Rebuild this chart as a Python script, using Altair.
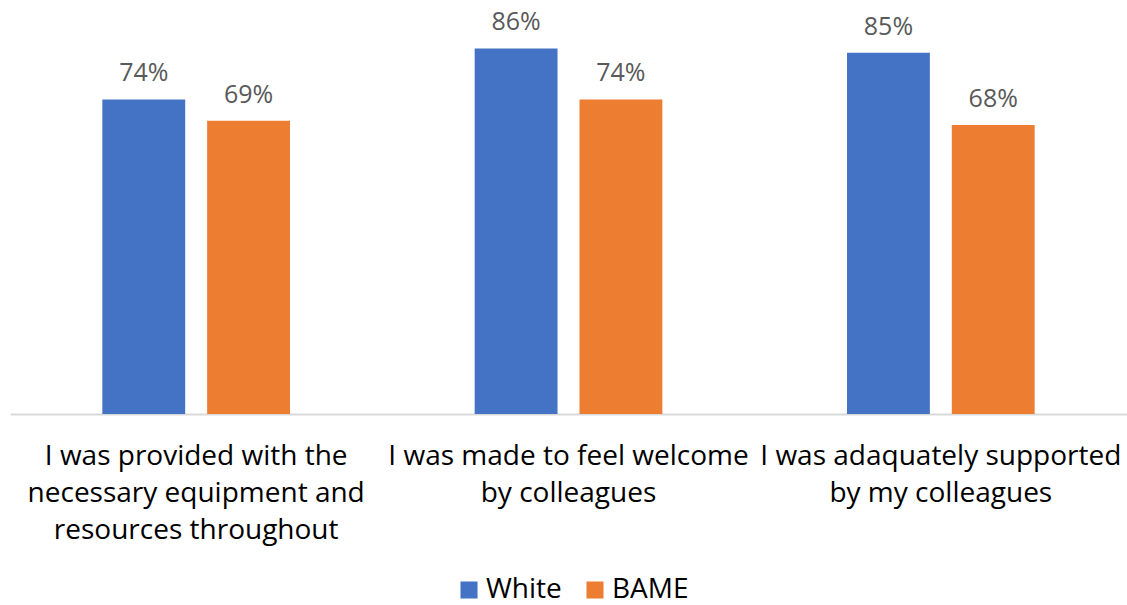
import altair as alt
import pandas as pd

# Survey statements (| marks a line break in the axis label)
statements = [
    "I was provided with the|necessary equipment and|resources throughout",
    "I was made to feel welcome|by colleagues",
    "I was adaquately supported|by my colleagues",
]
groups = ["White", "BAME"]
white = [0.74, 0.86, 0.85]
bame = [0.69, 0.74, 0.68]
colors = ["#4472C4", "#ED7D31"]

rows = []
for s, w, b in zip(statements, white, bame):
    rows.append({"statement": s, "group": "White", "share": w})
    rows.append({"statement": s, "group": "BAME", "share": b})
df = pd.DataFrame(rows)

font = "Open Sans"

x = alt.X(
    "statement:N",
    sort=statements,
    scale=alt.Scale(paddingInner=0, paddingOuter=0),
    axis=alt.Axis(
        title=None,
        labelExpr="split(datum.label, '|')",
        labelAngle=0,
        labelFont=font,
        labelFontSize=28,
        labelColor="#000000",
        labelLineHeight=37,
        labelPadding=28,
        labelLimit=0,
        ticks=False,
        domainColor="#D9D9D9",
        domainWidth=2,
    ),
)
xoff = alt.XOffset(
    "group:N",
    sort=groups,
    scale=alt.Scale(paddingInner=0.2095, paddingOuter=0.881),
)
y = alt.Y(
    "share:Q",
    scale=alt.Scale(domain=[0, 0.974], nice=False, zero=True),
    axis=None,
)

bars = alt.Chart(df).mark_bar().encode(
    x=x,
    xOffset=xoff,
    y=y,
    color=alt.Color(
        "group:N",
        sort=groups,
        scale=alt.Scale(domain=groups, range=colors),
        legend=alt.Legend(
            title=None,
            orient="none",
            direction="horizontal",
            legendX=445,
            legendY=576,
            symbolType="square",
            symbolSize=290,
            symbolStrokeWidth=0,
            symbolOpacity=1,
            labelFont=font,
            labelFontSize=28,
            labelColor="#000000",
            columnPadding=19,
            labelOffset=3,
        ),
    ),
)

labels = alt.Chart(df).mark_text(
    baseline="bottom", dy=-13, font=font, fontSize=25, color="#595959"
).encode(
    x=x,
    xOffset=xoff,
    y=y,
    text=alt.Text("share:Q", format=".0%"),
)

chart = (
    alt.layer(bars, labels)
    .properties(
        width=1117,
        height=414,
        autosize=alt.AutoSizeParams(type="none"),
        padding={"left": 10, "top": 0, "right": 0, "bottom": 191},
    )
    .configure_view(stroke=None)
)

chart.save("out.html", embed_options={"renderer": "svg", "actions": False})
